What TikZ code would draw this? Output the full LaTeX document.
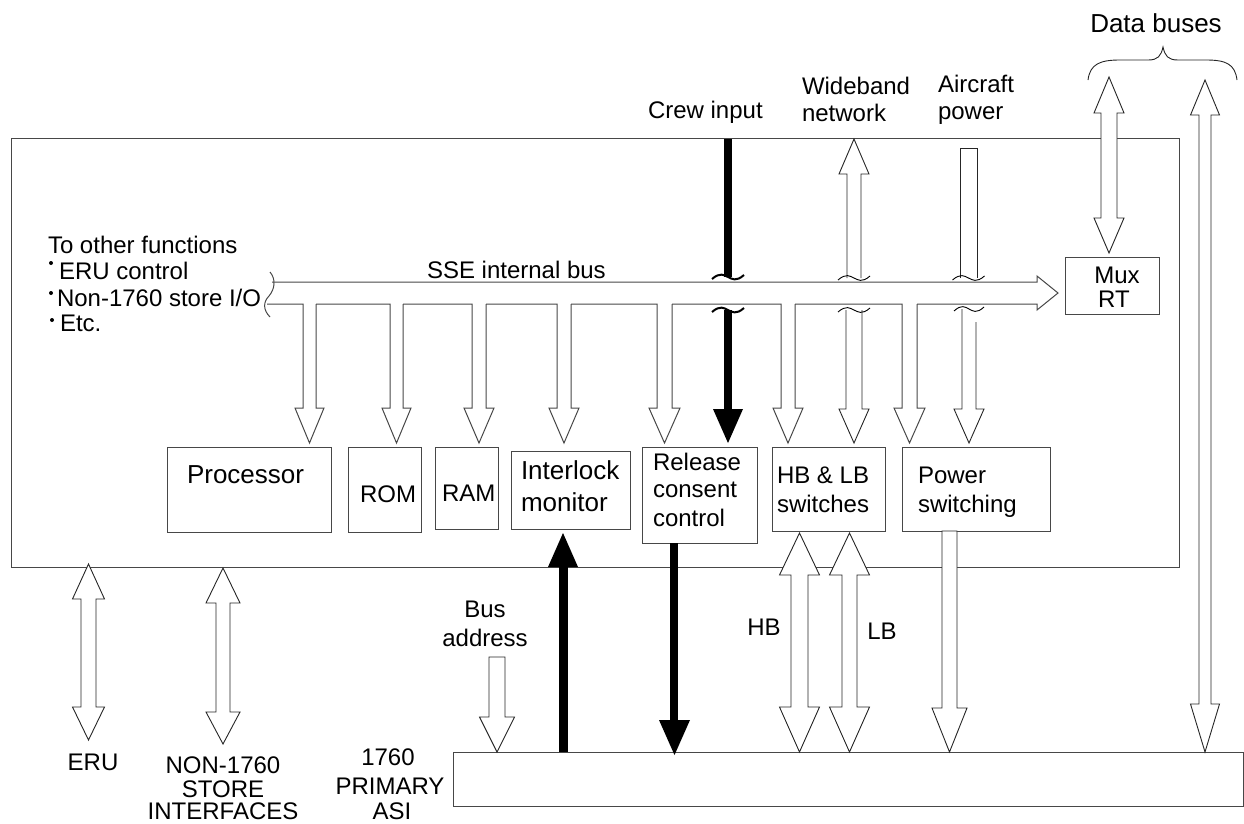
\documentclass[tikz,border=0pt]{standalone}
\usepackage{fontspec}
\setmainfont{Liberation Sans}
\newcommand\DblArr[7]{% x, tip top, base top, base bottom, tip bottom, shaft half, head half
 \draw[hollow] (#1,#2) -- (#1+#7,#3) -- (#1+#6,#3) -- (#1+#6,#4) -- (#1+#7,#4) -- (#1,#5) -- (#1-#7,#4) -- (#1-#6,#4) -- (#1-#6,#3) -- (#1-#7,#3) -- cycle;}
\newcommand\DownArr[6]{% x, top, base, tip, shaft half, head half
 \draw[hollow] (#1-#5,#2) -- (#1-#5,#3) -- (#1-#6,#3) -- (#1,#4) -- (#1+#6,#3) -- (#1+#5,#3) -- (#1+#5,#2) -- cycle;}
\newcommand\Squig[4][]{% x center, y, half width
 \draw[sq,#1] (#2-#4,#3+2) .. controls (#2-#4/2,#3-5) and (#2-#4/4,#3-2) .. (#2,#3) .. controls (#2+#4/4,#3+2) and (#2+#4/2,#3+5) .. (#2+#4,#3-2);}
\begin{document}
\begin{tikzpicture}[x=1pt,y=-1pt,
  ol/.style={draw=black!72, line width=1pt, line join=miter},
  box/.style={draw=black!72, line width=1pt, fill=white, inner sep=0pt, outer sep=0pt, anchor=north west},
  hollow/.style={draw=black!85, line width=0.9pt, fill=white, line join=miter},
  sq/.style={draw=black, line width=0.9pt},
  bar/.style={line width=8pt, draw=black},
  tt/.style={inner sep=0pt, outer sep=0pt, font=\fontsize{24}{28}\selectfont},
  tb/.style={inner sep=0pt, outer sep=0pt, font=\fontsize{26}{30}\selectfont},
]
\useasboundingbox (0,0) rectangle (1244,823);

% main enclosure
\node[box, fill=none, minimum width=1168pt, minimum height=429pt] (main) at (11,138) {};

% internal boxes
\node[box, minimum width=164pt, minimum height=85pt] (proc) at (167,447) {};
\node[box, minimum width=73pt,  minimum height=85pt] (rom)  at (348,447) {};
\node[box, minimum width=63pt,  minimum height=82pt] (ram)  at (435,447) {};
\node[box, minimum width=119pt, minimum height=78pt] (intl) at (511,451) {};
\node[box, minimum width=115pt, minimum height=96pt] (rel)  at (642,447) {};
\node[box, minimum width=113pt, minimum height=84pt] (hblb) at (772,447) {};
\node[box, minimum width=148pt, minimum height=84pt] (pow)  at (902,447) {};
\node[box, minimum width=94pt,  minimum height=57pt] (mux)  at (1065,257) {};
\node[box, minimum width=790pt, minimum height=54pt] (asi)  at (453,752) {};

% box texts
\node[tb, anchor=base west] (tproc) at (187,483) {Processor};
\node[tt, anchor=base west] (trom) at (360,502) {ROM};
\node[tt, anchor=base west] (tram) at (442,501) {RAM};
\node[tb, anchor=base west] (tintl1) at (521,479) {Interlock};
\node[tb, anchor=base west] (tintl2) at (521,511) {monitor};
\node[tt, anchor=base west] (trel1) at (653,470) {Release};
\node[tt, anchor=base west] (trel2) at (653,497) {consent};
\node[tt, anchor=base west] (trel3) at (653,526) {control};
\node[tt, anchor=base west] (thb1) at (777,483) {HB \& LB};
\node[tt, anchor=base west] (thb2) at (777,512) {switches};
\node[tt, anchor=base west] (tpow1) at (918,483) {Power};
\node[tt, anchor=base west] (tpow2) at (918,512) {switching};
\node[tt, anchor=base] (tmux1) at (1117,283) {Mux};
\node[tt, anchor=base] (tmux2) at (1114,307) {RT};

% SSE internal bus
\draw[ol] (270,272) .. controls (276,279) and (275,289) .. (269,296) .. controls (263,302) and (263,310) .. (270,317);
\draw[ol] (272,282) -- (1037,282) -- (1037,276) -- (1058,293) -- (1037,310) -- (1037,304) -- (917,304);
\foreach \L/\R [remember=\R as \P (initially 267)] in {303/316, 390/403, 472/486, 557/571, 657/672, 781/795, 902/917} {
  \draw[ol] (\P,304) -- (\L,304) -- (\L,408) -- (\L-8,408) -- ({(\L+\R)/2},443) -- (\R+8,408) -- (\R,408) -- (\R,304);
}
\node[tt, anchor=base west] (tbus) at (427,278) {SSE internal bus};

% to other functions
\node[tt, anchor=base west] (tof) at (48,253) {To other functions};
\node[tt, anchor=base west] (tof1) at (59,279) {ERU control};
\node[tt, anchor=base west] (tof2) at (57,306) {Non-1760 store I/O};
\node[tt, anchor=base west] (tof3) at (60,331) {Etc.};
\fill (51,263) circle (2pt);
\fill (51,293) circle (2pt);
\fill (52,320) circle (2pt);

% crew input
\node[tt, anchor=base west] (tcrew) at (648,118) {Crew input};
\draw[bar] (728,139) -- (728,277);
\Squig[line width=2pt]{728}{277}{16}
\Squig[line width=2pt]{728}{310}{16}
\draw[bar] (728,310) -- (728,410);
\fill (713,409) -- (743,409) -- (728,443) -- cycle;

% wideband network
\node[tt, anchor=base west] (twb1) at (802,94) {Wideband};
\node[tt, anchor=base west] (twb2) at (802,121) {network};
\draw[hollow] (847,278) -- (847,174) -- (839,174) -- (854,139) -- (869,174) -- (861,174) -- (861,278);
\Squig{854}{278}{16}
\draw[hollow] (846,310) -- (846,409) -- (839,409) -- (854,443) -- (869,409) -- (862,409) -- (862,310);
\Squig{854}{310}{16}

% aircraft power
\node[tt, anchor=base west] (tap1) at (938,92) {Aircraft};
\node[tt, anchor=base west] (tap2) at (938,119) {power};
\draw[hollow] (960,278) -- (960,148) -- (977,148) -- (977,278);
\Squig{968.5}{278}{16}
\draw[hollow] (962,309) -- (962,409) -- (954,409) -- (969,443) -- (984,409) -- (976,409) -- (976,322);
\Squig{969}{309}{15}

% data buses
\node[tb, anchor=base] (tdb) at (1156,32) {Data buses};
\draw[sq, draw=black!85] (1088,80) .. controls (1090,64) and (1100,60) .. (1120,60) -- (1148,60) .. controls (1158,60) and (1161,56) .. (1163,47) .. controls (1165,56) and (1168,60) .. (1178,60) -- (1206,60) .. controls (1226,60) and (1235,64) .. (1237,80);
\DblArr{1109}{77}{113}{218}{253}{8}{15}
\DblArr{1205}{80}{115}{704}{752}{6}{14.5}

% lower interfaces
\DblArr{88.5}{564}{599}{707}{740}{7.5}{16}
\DblArr{223}{568}{603}{712}{744}{7}{17}
\DblArr{799.5}{533}{575}{707}{752}{8.5}{20}
\DblArr{849.5}{533}{575}{707}{752}{7.5}{20}
\DownArr{949.5}{531}{708}{752}{7.5}{17.5}
\DownArr{497}{657}{717}{752}{8}{17.5}

% interlock / release
\draw[bar, line width=9pt] (asi.north -| 563,0) -- (563,566);
\fill (548,567) -- (578,567) -- (563,533) -- cycle;
\draw[bar] (rel.south -| 674,0) -- (674,721);
\fill (659,720) -- (690,720) -- (674.5,755) -- cycle;

% bottom labels
\node[tt, anchor=base] (teru) at (93,770) {ERU};
\node[tt, anchor=base] (tn1) at (223,773) {NON-1760};
\node[tt, anchor=base] (tn2) at (223,797) {STORE};
\node[tt, anchor=base] (tn3) at (223,819) {INTERFACES};
\node[tt, anchor=base] (ta1) at (388,765) {1760};
\node[tt, anchor=base] (ta2) at (390,794) {PRIMARY};
\node[tt, anchor=base] (ta3) at (392,819) {ASI};
\node[tt, anchor=base] (tba1) at (485,617) {Bus};
\node[tt, anchor=base] (tba2) at (485,646) {address};
\node[tt, anchor=base] (thb) at (764,635) {HB};
\node[tt, anchor=base] (tlb) at (882,639) {LB};
\end{tikzpicture}
\end{document}
